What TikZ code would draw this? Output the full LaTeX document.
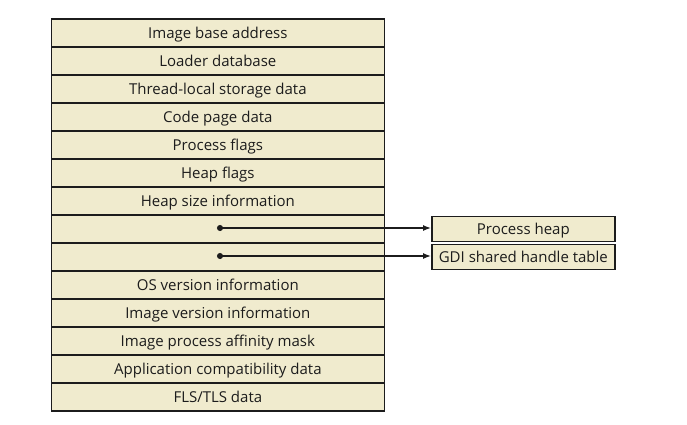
\documentclass[tikz,border=0pt]{standalone}
\usepackage{fontspec}
\setmainfont{Open Sans}
\usetikzlibrary{arrows.meta,positioning}
\definecolor{boxfill}{RGB}{240,235,206}
\definecolor{ink}{RGB}{28,28,28}
\begin{document}
\begin{tikzpicture}[x=1pt,y=-1pt,
  txt/.style={font=\fontsize{15}{16}\selectfont,text=ink,text height=13pt,text depth=1.3pt},
  rowbox/.style={txt,draw=ink,line width=1.7pt,fill=boxfill,minimum width=333pt,minimum height=28pt,inner sep=0pt,anchor=north west},
  sidebox/.style={txt,draw=ink,line width=1.7pt,fill=boxfill,minimum width=183pt,minimum height=25pt,inner sep=0pt,anchor=north west},
  link/.style={draw=ink,line width=1.3pt,{Circle[length=6pt]}-{Latex[length=8pt,width=6pt]}}]
\useasboundingbox (0,0) rectangle (687,424);
\node[rowbox] (r1) at (50.5,18) {Image base address};
\node[rowbox] (r2) at (50.5,46) {Loader database};
\node[rowbox] (r3) at (50.5,74) {Thread-local storage data};
\node[rowbox] (r4) at (50.5,102) {Code page data};
\node[rowbox] (r5) at (50.5,130) {Process flags};
\node[rowbox] (r6) at (50.5,158) {Heap flags};
\node[rowbox] (r7) at (50.5,186) {Heap size information};
\node[rowbox] (r8) at (50.5,214) {};
\node[rowbox] (r9) at (50.5,242) {};
\node[rowbox] (r10) at (50.5,270) {OS version information};
\node[rowbox] (r11) at (50.5,298) {Image version information};
\node[rowbox] (r12) at (50.5,326) {Image process affinity mask};
\node[rowbox] (r13) at (50.5,354) {Application compatibility data};
\node[rowbox] (r14) at (50.5,382) {FLS/TLS data};
\node[sidebox] (ph) at (431,215.5) {Process heap};
\node[sidebox] (gdi) at (431,243.5) {GDI shared handle table};
\coordinate (d1) at (217,228);
\coordinate (d2) at (217,256);
\draw[link] (d1) -- (d1 -| ph.west);
\draw[link] (d2) -- (d2 -| gdi.west);
\end{tikzpicture}
\end{document}
